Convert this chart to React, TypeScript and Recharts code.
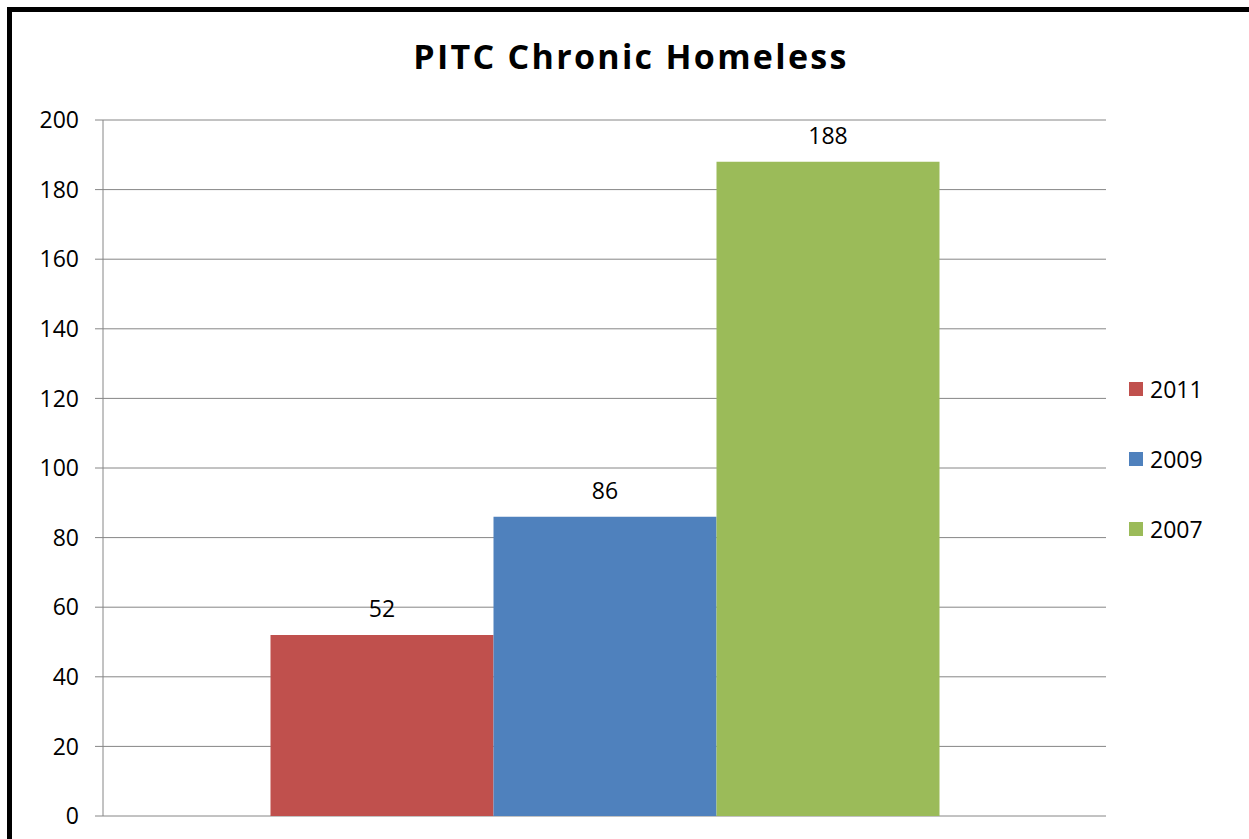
import React from "react";
import { BarChart, Bar, XAxis, YAxis, CartesianGrid, LabelList } from "recharts";

const categories = ["Chronic Homeless"];
const seriesNames = ["2011", "2009", "2007"];
const seriesValues = [52, 86, 188];
const seriesColors = ["#C0504D", "#4F81BD", "#9BBB59"];
const yTicks = [0, 20, 40, 60, 80, 100, 120, 140, 160, 180, 200];
const titleText = "PITC Chronic Homeless";

const data = categories.map((c) => {
  const row: Record<string, string | number> = { category: c };
  seriesNames.forEach((s, i) => {
    row[s] = seriesValues[i];
  });
  return row;
});

const FONT = "'Open Sans', 'Liberation Sans', sans-serif";

export default function App() {
  return (
    <div
      style={{
        position: "absolute",
        left: 0,
        top: 0,
        width: 1249,
        height: 839,
        background: "#fff",
        overflow: "hidden",
      }}
    >
      <div
        style={{
          position: "absolute",
          left: 0,
          top: 33,
          width: 1262,
          textAlign: "center",
          fontFamily: FONT,
          fontWeight: 700,
          fontSize: 34,
          letterSpacing: 2.3,
          lineHeight: "46px",
          color: "#000",
        }}
      >
        {titleText}
      </div>
      <BarChart
        width={1249}
        height={839}
        data={data}
        margin={{ top: 120, right: 143, bottom: 23, left: 8 }}
        barGap={0}
        barCategoryGap="16.7%"
      >
        <CartesianGrid horizontal vertical={false} stroke="#868686" />
        <XAxis dataKey="category" hide />
        <YAxis
          domain={[0, 200]}
          ticks={yTicks}
          interval={0}
          width={95}
          tickSize={8}
          tickMargin={16}
          axisLine={{ stroke: "#868686" }}
          tickLine={{ stroke: "#868686" }}
          tick={{ fill: "#000", fontSize: 23, fontFamily: FONT }}
        />
        {seriesNames.map((s, i) => (
          <Bar
            key={s}
            dataKey={s}
            name={s}
            fill={seriesColors[i]}
            isAnimationActive={false}
          >
            <LabelList
              dataKey={s}
              position="top"
              offset={18}
              style={{ fill: "#000", fontSize: 23, fontFamily: FONT }}
            />
          </Bar>
        ))}
      </BarChart>
      <div
        style={{
          position: "absolute",
          left: 1129,
          top: 354,
          fontFamily: FONT,
          fontSize: 23,
          color: "#000",
        }}
      >
        {seriesNames.map((s, i) => (
          <div key={s} style={{ display: "flex", alignItems: "center", height: 70 }}>
            <div
              style={{
                width: 14,
                height: 14,
                background: seriesColors[i],
                marginRight: 7,
              }}
            />
            <span style={{ lineHeight: "23px" }}>{s}</span>
          </div>
        ))}
      </div>
      <div
        style={{
          position: "absolute",
          left: 7,
          top: 7,
          width: 1300,
          height: 900,
          borderTop: "5px solid #000",
          borderLeft: "5px solid #000",
          pointerEvents: "none",
        }}
      />
    </div>
  );
}
